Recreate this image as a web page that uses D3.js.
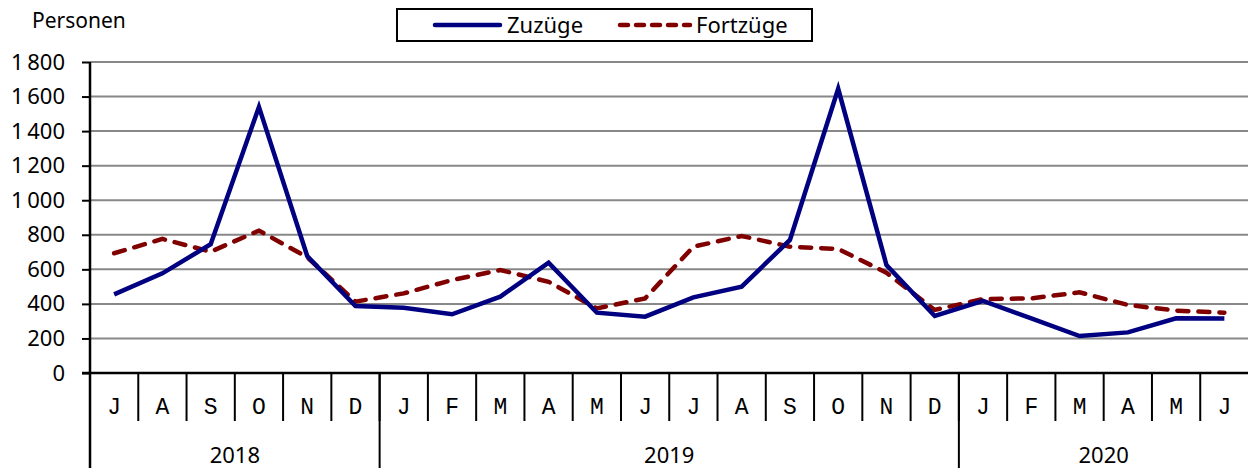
<!DOCTYPE html>
<html>
<head>
<meta charset="utf-8">
<script src="https://cdn.jsdelivr.net/npm/d3@7"></script>
<style>
  body { margin: 0; background: #fff; }
  svg { display: block; }
  .lbl { font-family: "Noto Sans", sans-serif; fill: #000; }
  .mon { font-family: "Liberation Mono", monospace; fill: #000; }
</style>
</head>
<body>
<svg id="chart"></svg>
<script>
const months = ["J","A","S","O","N","D","J","F","M","A","M","J","J","A","S","O","N","D","J","F","M","A","M","J"]
const years = [
  { label: "2018", from: 0, to: 6 },
  { label: "2019", from: 6, to: 18 },
  { label: "2020", from: 18, to: 24 }
]
const zuzuege = [455, 577, 745, 1540, 677, 388, 378, 340, 442, 638, 349, 326, 438, 500, 770, 1645, 625, 330, 418, 316, 214, 235, 317, 315]
const fortzuege = [693, 776, 702, 824, 670, 413, 461, 538, 596, 528, 374, 432, 731, 793, 731, 718, 580, 365, 428, 432, 467, 394, 361, 349]
const yTicks = [0, 200, 400, 600, 800, 1000, 1200, 1400, 1600, 1800]

const W = 1248, H = 468
const svg = d3.select("#chart").attr("width", W).attr("height", H)

const x = d3.scaleBand()
  .domain(d3.range(months.length))
  .range([90, 1248.5])

const y = d3.scaleLinear()
  .domain([0, 1800])
  .range([373, 62])

const fmt = v => d3.format(",")(v).replace(",", "\u2009")

// gridlines
svg.append("g")
  .selectAll("line")
  .data(yTicks.filter(d => d > 0))
  .enter().append("line")
  .attr("x1", 90).attr("x2", W)
  .attr("y1", d => y(d)).attr("y2", d => y(d))
  .attr("stroke", "#888").attr("stroke-width", 2)

// y axis
const yAxis = d3.axisLeft(y).tickValues(yTicks).tickSize(8).tickFormat(fmt)
const yg = svg.append("g").attr("transform", "translate(90,0)").call(yAxis)
yg.select(".domain").remove()
yg.selectAll(".tick line").attr("stroke", "#000").attr("stroke-width", 2)
yg.selectAll(".tick text")
  .attr("class", "lbl")
  .attr("x", -25)
  .attr("font-size", 22)

svg.append("line")
  .attr("x1", 90).attr("x2", 90).attr("y1", y(1800)).attr("y2", H)
  .attr("stroke", "#000").attr("stroke-width", 2.5)

// x axis baseline
svg.append("line")
  .attr("x1", 82).attr("x2", W).attr("y1", y(0)).attr("y2", y(0))
  .attr("stroke", "#000").attr("stroke-width", 2.5)

// month separators
svg.append("g")
  .selectAll("line")
  .data(d3.range(1, months.length))
  .enter().append("line")
  .attr("x1", d => x(d)).attr("x2", d => x(d))
  .attr("y1", y(0)).attr("y2", 421)
  .attr("stroke", "#000").attr("stroke-width", 2)

// year separators
svg.append("g")
  .selectAll("line")
  .data(years.slice(1))
  .enter().append("line")
  .attr("x1", d => x(d.from)).attr("x2", d => x(d.from))
  .attr("y1", y(0)).attr("y2", H)
  .attr("stroke", "#000").attr("stroke-width", 2)

// month labels
svg.append("g")
  .selectAll("text")
  .data(months)
  .enter().append("text")
  .attr("class", "mon")
  .attr("x", (d, i) => x(i) + x.bandwidth() / 2)
  .attr("y", 414)
  .attr("text-anchor", "middle")
  .attr("font-size", 23)
  .text(d => d)

// year labels
svg.append("g")
  .selectAll("text")
  .data(years)
  .enter().append("text")
  .attr("class", "lbl")
  .attr("x", d => (x(d.from) + (d.to < months.length ? x(d.to) : 1248.5)) / 2)
  .attr("y", 463)
  .attr("text-anchor", "middle")
  .attr("font-size", 22)
  .text(d => d.label)

// lines
const line = d3.line()
  .x((d, i) => x(i) + x.bandwidth() / 2)
  .y(d => y(d))

svg.append("path")
  .datum(fortzuege)
  .attr("d", line)
  .attr("fill", "none")
  .attr("stroke", "#800000")
  .attr("stroke-width", 4.5)
  .attr("stroke-dasharray", "11,10")
  .attr("stroke-linecap", "round")

svg.append("path")
  .datum(zuzuege)
  .attr("d", line)
  .attr("fill", "none")
  .attr("stroke", "#000080")
  .attr("stroke-width", 4.5)
  .attr("stroke-linejoin", "miter")

// y axis title
svg.append("text")
  .attr("class", "lbl")
  .attr("x", 32).attr("y", 28)
  .attr("font-size", 21)
  .text("Personen")

// legend
const lg = svg.append("g")
lg.append("rect")
  .attr("x", 397).attr("y", 9).attr("width", 415).attr("height", 32)
  .attr("fill", "#fff").attr("stroke", "#000").attr("stroke-width", 2)
lg.append("line")
  .attr("x1", 435).attr("x2", 500).attr("y1", 25).attr("y2", 25)
  .attr("stroke", "#000080").attr("stroke-width", 4.5).attr("stroke-linecap", "round")
lg.append("text")
  .attr("class", "lbl").attr("x", 507).attr("y", 33).attr("font-size", 22)
  .text("Zuzüge")
lg.append("line")
  .attr("x1", 620).attr("x2", 690).attr("y1", 25).attr("y2", 25)
  .attr("stroke", "#800000").attr("stroke-width", 4.5)
  .attr("stroke-dasharray", "8,8").attr("stroke-linecap", "round")
lg.append("text")
  .attr("class", "lbl").attr("x", 696).attr("y", 33).attr("font-size", 22)
  .text("Fortzüge")
</script>
</body>
</html>
